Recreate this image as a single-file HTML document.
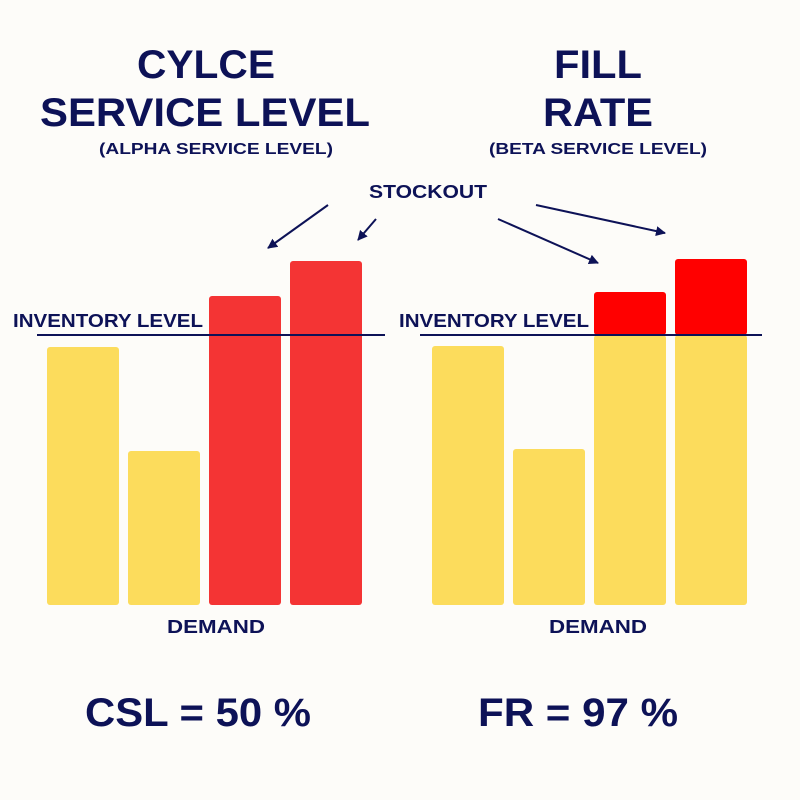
<!DOCTYPE html>
<html><head><meta charset="utf-8"><style>
body{margin:0;background:#fdfcf9;}
svg{display:block;font-family:"Liberation Sans","DejaVu Sans",sans-serif;font-weight:bold;fill:#0d1257}
</style></head><body>
<svg id="c" width="800" height="800" viewBox="0 0 800 800">
<rect width="800" height="800" fill="#fdfcf9"/>
<g text-anchor="middle" fill="#0d1257">
<text x="206" y="78" font-size="40" textLength="138" lengthAdjust="spacingAndGlyphs">CYLCE</text>
<text x="205" y="126" font-size="40" textLength="330" lengthAdjust="spacingAndGlyphs">SERVICE LEVEL</text>
<text x="216" y="154" font-size="16" textLength="234" lengthAdjust="spacingAndGlyphs">(ALPHA SERVICE LEVEL)</text>
<text x="598" y="78" font-size="40" textLength="88" lengthAdjust="spacingAndGlyphs">FILL</text>
<text x="598" y="126" font-size="40" textLength="110" lengthAdjust="spacingAndGlyphs">RATE</text>
<text x="598" y="154" font-size="16" textLength="218" lengthAdjust="spacingAndGlyphs">(BETA SERVICE LEVEL)</text>
<text x="428" y="198" font-size="18" textLength="118" lengthAdjust="spacingAndGlyphs">STOCKOUT</text>
<text x="216" y="633" font-size="18" textLength="98" lengthAdjust="spacingAndGlyphs">DEMAND</text>
<text x="598" y="633" font-size="18" textLength="98" lengthAdjust="spacingAndGlyphs">DEMAND</text>
<text x="198" y="726" font-size="40" textLength="226" lengthAdjust="spacingAndGlyphs">CSL = 50 %</text>
<text x="578" y="726" font-size="40" textLength="200" lengthAdjust="spacingAndGlyphs">FR = 97 %</text>
</g>
<text x="13" y="327" font-size="18" textLength="190" lengthAdjust="spacingAndGlyphs" style="font-weight:600">INVENTORY LEVEL</text>
<text x="399" y="327" font-size="18" textLength="190" lengthAdjust="spacingAndGlyphs" style="font-weight:600">INVENTORY LEVEL</text>
<defs><marker id="ah" markerWidth="12" markerHeight="12" refX="9" refY="5" orient="auto" markerUnits="userSpaceOnUse"><path d="M0,0 L10,5 L0,10 Z" fill="#0d1257"/></marker></defs>
<g stroke="#0d1257" stroke-width="2" marker-end="url(#ah)">
<line x1="328" y1="205" x2="268" y2="248"/>
<line x1="376" y1="219" x2="358" y2="240"/>
<line x1="498" y1="219" x2="598" y2="263"/>
<line x1="536" y1="205" x2="665" y2="233"/>
</g>
<g id="bars"></g>
</svg>
<script>
const demand = [258, 154, 309, 344];
const demandFR = [259, 156, 313, 346];
const inventory = 270;
const cslX0 = 47, frX0 = 432, barW = 72, gap = 81, baseY = 605, scale = 1;
const y = v => baseY - v * scale;
const g = document.getElementById('bars');
const NS = 'http://www.w3.org/2000/svg';
function rect(x, y1, w, h, fill, name) {
  const r = document.createElementNS(NS, 'rect');
  r.setAttribute('x', x); r.setAttribute('y', y1); r.setAttribute('width', w); r.setAttribute('height', h);
  r.setAttribute('rx', 3); r.setAttribute('fill', fill);
  
  
  g.appendChild(r);
}
demand.forEach((v, i) => {
  const x = cslX0 + i * gap;
  rect(x, y(v), barW, v * scale, v > inventory ? '#f43434' : '#fcdc5c', 'csl-bar-' + (i + 1));
});
demandFR.forEach((v, i) => {
  const x = frX0 + i * gap;
  const h = Math.min(v, inventory);
  rect(x, y(h), barW, h * scale, '#fcdc5c', 'fr-bar-filled-' + (i + 1));
  if (v > inventory) rect(x, y(v), barW, (v - inventory) * scale, '#ff0000', 'fr-bar-stockout-' + (i + 1));
});
function hline(x1, x2, name) {
  const l = document.createElementNS(NS, 'line');
  l.setAttribute('x1', x1); l.setAttribute('x2', x2);
  l.setAttribute('y1', y(inventory)); l.setAttribute('y2', y(inventory));
  l.setAttribute('stroke', '#0d1257'); l.setAttribute('stroke-width', 2);
  
  
  g.appendChild(l);
}
hline(37, 385, 'csl-inventory-line');
hline(420, 762, 'fr-inventory-line');
</script>
</body></html>
